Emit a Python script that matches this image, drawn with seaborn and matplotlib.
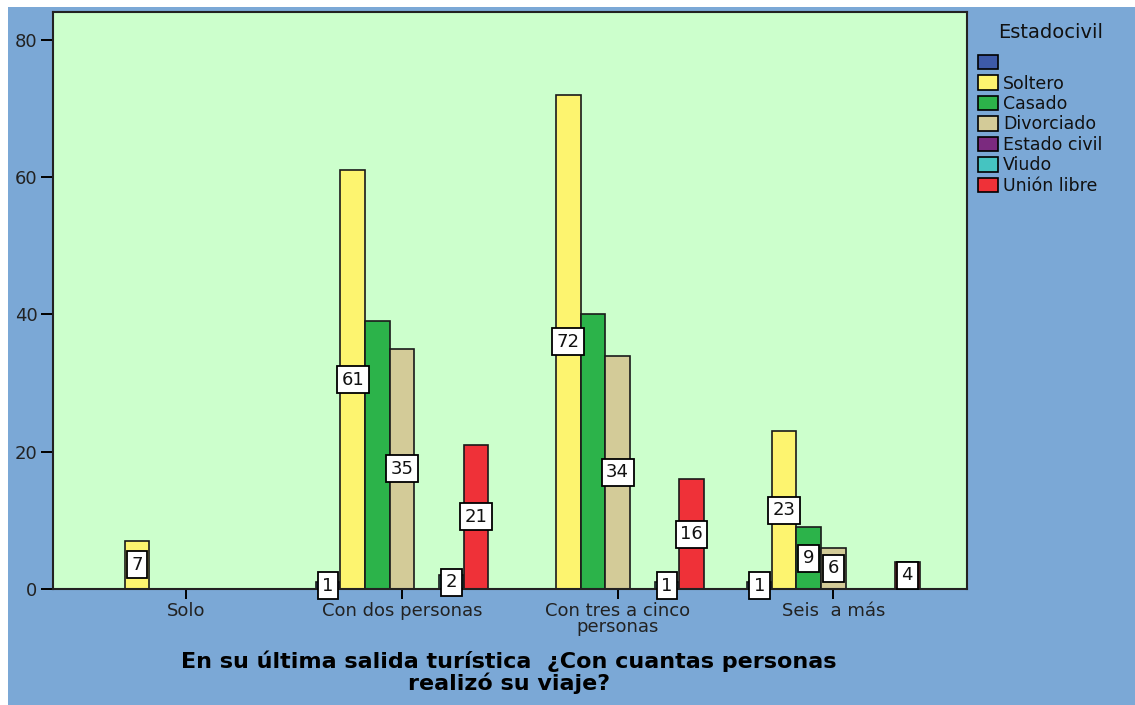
import numpy as np
import pandas as pd
import matplotlib
matplotlib.use("Agg")
import matplotlib.pyplot as plt
import seaborn as sns
from matplotlib.patches import Patch, Rectangle

# Groups on the x axis and marital-status series
categories = ["Solo", "Con dos personas", "Con tres a cinco\npersonas", "Seis  a más"]
series = ["", "Soltero", "Casado", "Divorciado", "Estado civil", "Viudo", "Unión libre"]

blank = [0, 1, 0, 1]
soltero = [7, 61, 72, 23]
casado = [0, 39, 40, 9]
divorciado = [0, 35, 34, 6]
estado_civil = [0, 0, 0, 0]
viudo = [0, 2, 1, 0]
union_libre = [0, 21, 16, 4]

series_values = [blank, soltero, casado, divorciado, estado_civil, viudo, union_libre]
colors = ["#3D5AA8", "#FDF46F", "#2CB34A", "#D3CB98", "#7B2A7F", "#45C4C1", "#EF3138"]

# Value boxes left off where they would crowd the neighbouring ones
unlabelled = {("Casado", "Con dos personas"), ("Casado", "Con tres a cinco\npersonas")}

bg_blue = "#7BA8D6"
plot_green = "#CCFFCC"

rows = []
for name, vals in zip(series, series_values):
    for cat, v in zip(categories, vals):
        rows.append({"grupo": cat, "estado": name, "n": v})
df = pd.DataFrame(rows)

W, H = 1135, 705
fig = plt.figure(figsize=(W / 100, H / 100), dpi=100, facecolor="white")
fig.patches.append(Rectangle((8 / W, 0), 1 - 8 / W, 1 - 7 / H, transform=fig.transFigure,
                             facecolor=bg_blue, edgecolor="none", zorder=-10))

ax = fig.add_axes([52.7 / W, (H - 589) / H, (967 - 52.7) / W, (589 - 11.7) / H])
ax.set_facecolor(plot_green)

sns.barplot(data=df, x="grupo", y="n", hue="estado", order=categories, hue_order=series,
            palette=dict(zip(series, colors)), saturation=1, width=0.8, errorbar=None,
            edgecolor="#1a1a1a", linewidth=1.2, legend=False, ax=ax)

# Value boxes centred on each non-empty bar
for name, cont in zip(series, ax.containers):
    for cat, rect in zip(categories, cont):
        h = rect.get_height()
        if h > 0 and (name, cat) not in unlabelled:
            ax.text(rect.get_x() + rect.get_width() / 2, h / 2, f"{h:g}",
                    ha="center", va="center", fontsize=13, color="#111111", clip_on=False,
                    zorder=5,
                    bbox=dict(boxstyle="square,pad=0.25", facecolor="white",
                              edgecolor="black", linewidth=1.3))

ax.set_xlim(-0.62, 3.62)
ax.set_ylim(0, 84.1)
ax.set_yticks([0, 20, 40, 60, 80])
ax.set_xlabel("")
ax.set_ylabel("")
ax.set_xticks(range(len(categories)))
ax.set_xticklabels(categories, fontsize=13, color="#222222", linespacing=0.9)
ax.tick_params(axis="y", length=9, width=1.4, direction="out", labelsize=13,
               labelcolor="#222222", pad=2)
ax.tick_params(axis="x", length=7, width=1.4, direction="out", pad=2)
for s in ax.spines.values():
    s.set_color("#222222")
    s.set_linewidth(1.5)

fig.text(509 / W, 1 - 651 / H,
         "En su última salida turística  ¿Con cuantas personas\nrealizó su viaje?",
         ha="center", va="top", fontsize=16, fontweight="bold", color="black",
         linespacing=0.98)

# Legend heading and entries
fig.text(1051 / W, 1 - 33 / H, "Estadocivil", ha="center", va="center",
         fontsize=14, color="#111111")
handles = [Patch(facecolor=c, edgecolor="black", linewidth=1.2) for c in colors]
leg = fig.legend(handles, series, loc="upper left",
                 bbox_to_anchor=(966 / W, 1 - 42 / H), frameon=False, fontsize=12.5,
                 handlelength=1.15, handleheight=0.9,
                 handletextpad=0.3, labelspacing=0.14, borderpad=0.2)
for t in leg.get_texts():
    t.set_color("#111111")

fig.savefig("out.png", dpi=100, facecolor=fig.get_facecolor())
